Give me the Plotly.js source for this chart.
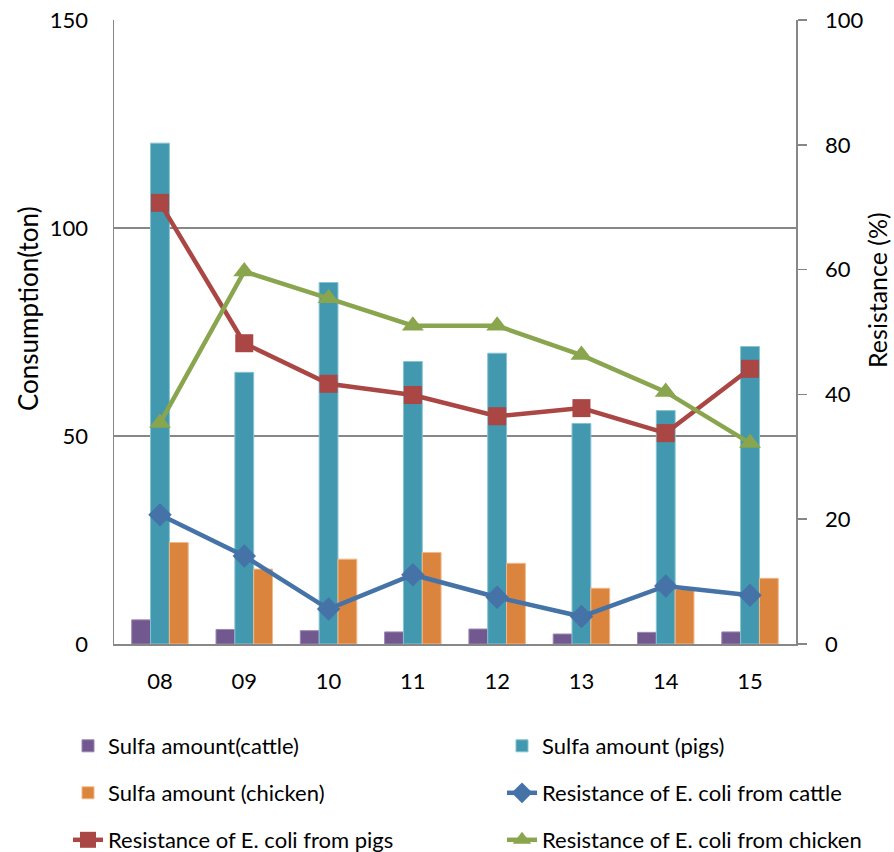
<!DOCTYPE html>
<html>
<head>
<meta charset="utf-8">
<script src="https://cdn.plot.ly/plotly-3.0.1.min.js"></script>
<style>
  html, body { margin: 0; padding: 0; background: #fff; }
  #chart { width: 894px; height: 852px; }
</style>
</head>
<body>
<div id="chart"></div>
<script>
// Years (two-digit labels on the category axis)
const years = ['08', '09', '10', '11', '12', '13', '14', '15'];

// Sulfonamide consumption, tons (left axis)
const sulfaCattle  = [5.8, 3.5, 3.2, 2.9, 3.6, 2.4, 2.8, 2.9];
const sulfaPigs    = [120.4, 65.3, 86.9, 67.9, 69.9, 53.0, 56.1, 71.5];
const sulfaChicken = [24.4, 18.0, 20.4, 22.0, 19.4, 13.4, 13.1, 15.8];

// Resistance of E. coli isolates, % (right axis)
const resCattle  = [20.7, 14.1, 5.6, 11.1, 7.5, 4.4, 9.3, 7.8];
const resPigs    = [70.7, 48.2, 41.7, 39.9, 36.5, 37.8, 33.8, 44.1];
const resChicken = [35.4, 59.7, 55.4, 51.0, 51.0, 46.3, 40.4, 32.2];

const FONT = 'Lato, "Open Sans", sans-serif';
const GRID = '#878787';

// Figure geometry in pixels
const W = 894, H = 852;
const M = { l: 114, r: 98, t: 20, b: 208, autoexpand: false };
const plotW = W - M.l - M.r;
const plotH = H - M.t - M.b;
const px2x = px => (px - M.l) / plotW;
const px2y = py => (H - M.b - py) / plotH;

function barTrace(name, y, fill, edge, legend) {
  return {
    type: 'bar', name, x: years, y, yaxis: 'y', legend,
    marker: { color: fill, line: { color: edge, width: 1 } },
    hoverinfo: 'x+y+name'
  };
}
function lineTrace(name, y, color, symbol, size, legend) {
  return {
    type: 'scatter', mode: 'lines+markers', name, x: years, y, yaxis: 'y2', legend,
    line: { color, width: 4.5 },
    marker: { color, symbol, size },
    cliponaxis: false
  };
}

const data = [
  barTrace('Sulfa amount(cattle)',   sulfaCattle,  '#71588F', '#9b86b3', 'legend'),
  barTrace('Sulfa amount (pigs)',    sulfaPigs,    '#4198AF', '#86c2d2', 'legend2'),
  barTrace('Sulfa amount (chicken)', sulfaChicken, '#DB843D', '#f0b98a', 'legend3'),
  lineTrace('Resistance of E. coli from cattle',  resCattle,  '#4572A7', 'diamond',     18, 'legend4'),
  lineTrace('Resistance of E. coli from pigs',    resPigs,    '#AA4643', 'square',      18, 'legend5'),
  lineTrace('Resistance of E. coli from chicken', resChicken, '#89A54E', 'triangle-up', 19, 'legend6')
];

// Legend grid: two columns, three rows below the plot
const legCols = [68, 502];
const legRows = [746, 793, 840];
function legendAt(col, row) {
  return {
    x: px2x(legCols[col]), xanchor: 'left',
    y: px2y(legRows[row]), yanchor: 'middle',
    orientation: 'h', bgcolor: 'rgba(0,0,0,0)',
    font: { family: FONT, size: 22, color: '#000' },
    itemsizing: 'trace', itemclick: false
  };
}

const layout = {
  width: W, height: H,
  margin: M,
  paper_bgcolor: '#fff', plot_bgcolor: '#fff',
  font: { family: FONT, color: '#000' },
  barmode: 'group', bargap: 0.33, bargroupgap: 0,
  xaxis: {
    type: 'category', showgrid: false, zeroline: false,
    showline: true, linecolor: GRID, linewidth: 1.5,
    ticks: '', ticklabelstandoff: 17,
    tickfont: { family: FONT, size: 22, color: '#000' }
  },
  yaxis: {
    range: [0, 150], dtick: 50, tick0: 0,
    showgrid: true, gridcolor: GRID, gridwidth: 1.5,
    zeroline: false, showline: true, linecolor: GRID, linewidth: 1.5,
    ticks: '', ticklabelstandoff: 20,
    tickfont: { family: FONT, size: 22, color: '#000' }
  },
  yaxis2: {
    overlaying: 'y', side: 'right', range: [0, 100], dtick: 20, tick0: 0,
    showgrid: false, zeroline: false, showline: true, linecolor: GRID, linewidth: 1.5,
    ticks: 'outside', ticklen: 9, tickwidth: 1.5, tickcolor: GRID,
    ticklabelstandoff: 14,
    tickfont: { family: FONT, size: 22, color: '#000' }
  },
  legend:  legendAt(0, 0),
  legend2: legendAt(1, 0),
  legend3: legendAt(0, 1),
  legend4: legendAt(1, 1),
  legend5: legendAt(0, 2),
  legend6: legendAt(1, 2),
  annotations: [
    { text: 'Consumption(ton)', xref: 'paper', yref: 'paper',
      x: px2x(28), y: px2y(309), showarrow: false, textangle: -90,
      xanchor: 'center', yanchor: 'middle',
      font: { family: FONT, size: 26, color: '#000' } },
    { text: 'Resistance (%)', xref: 'paper', yref: 'paper',
      x: px2x(877), y: px2y(290), showarrow: false, textangle: -90,
      xanchor: 'center', yanchor: 'middle',
      font: { family: FONT, size: 25, color: '#000' } }
  ],
  showlegend: true
};

Plotly.newPlot('chart', data, layout, { staticPlot: true, displayModeBar: false });
</script>
</body>
</html>
